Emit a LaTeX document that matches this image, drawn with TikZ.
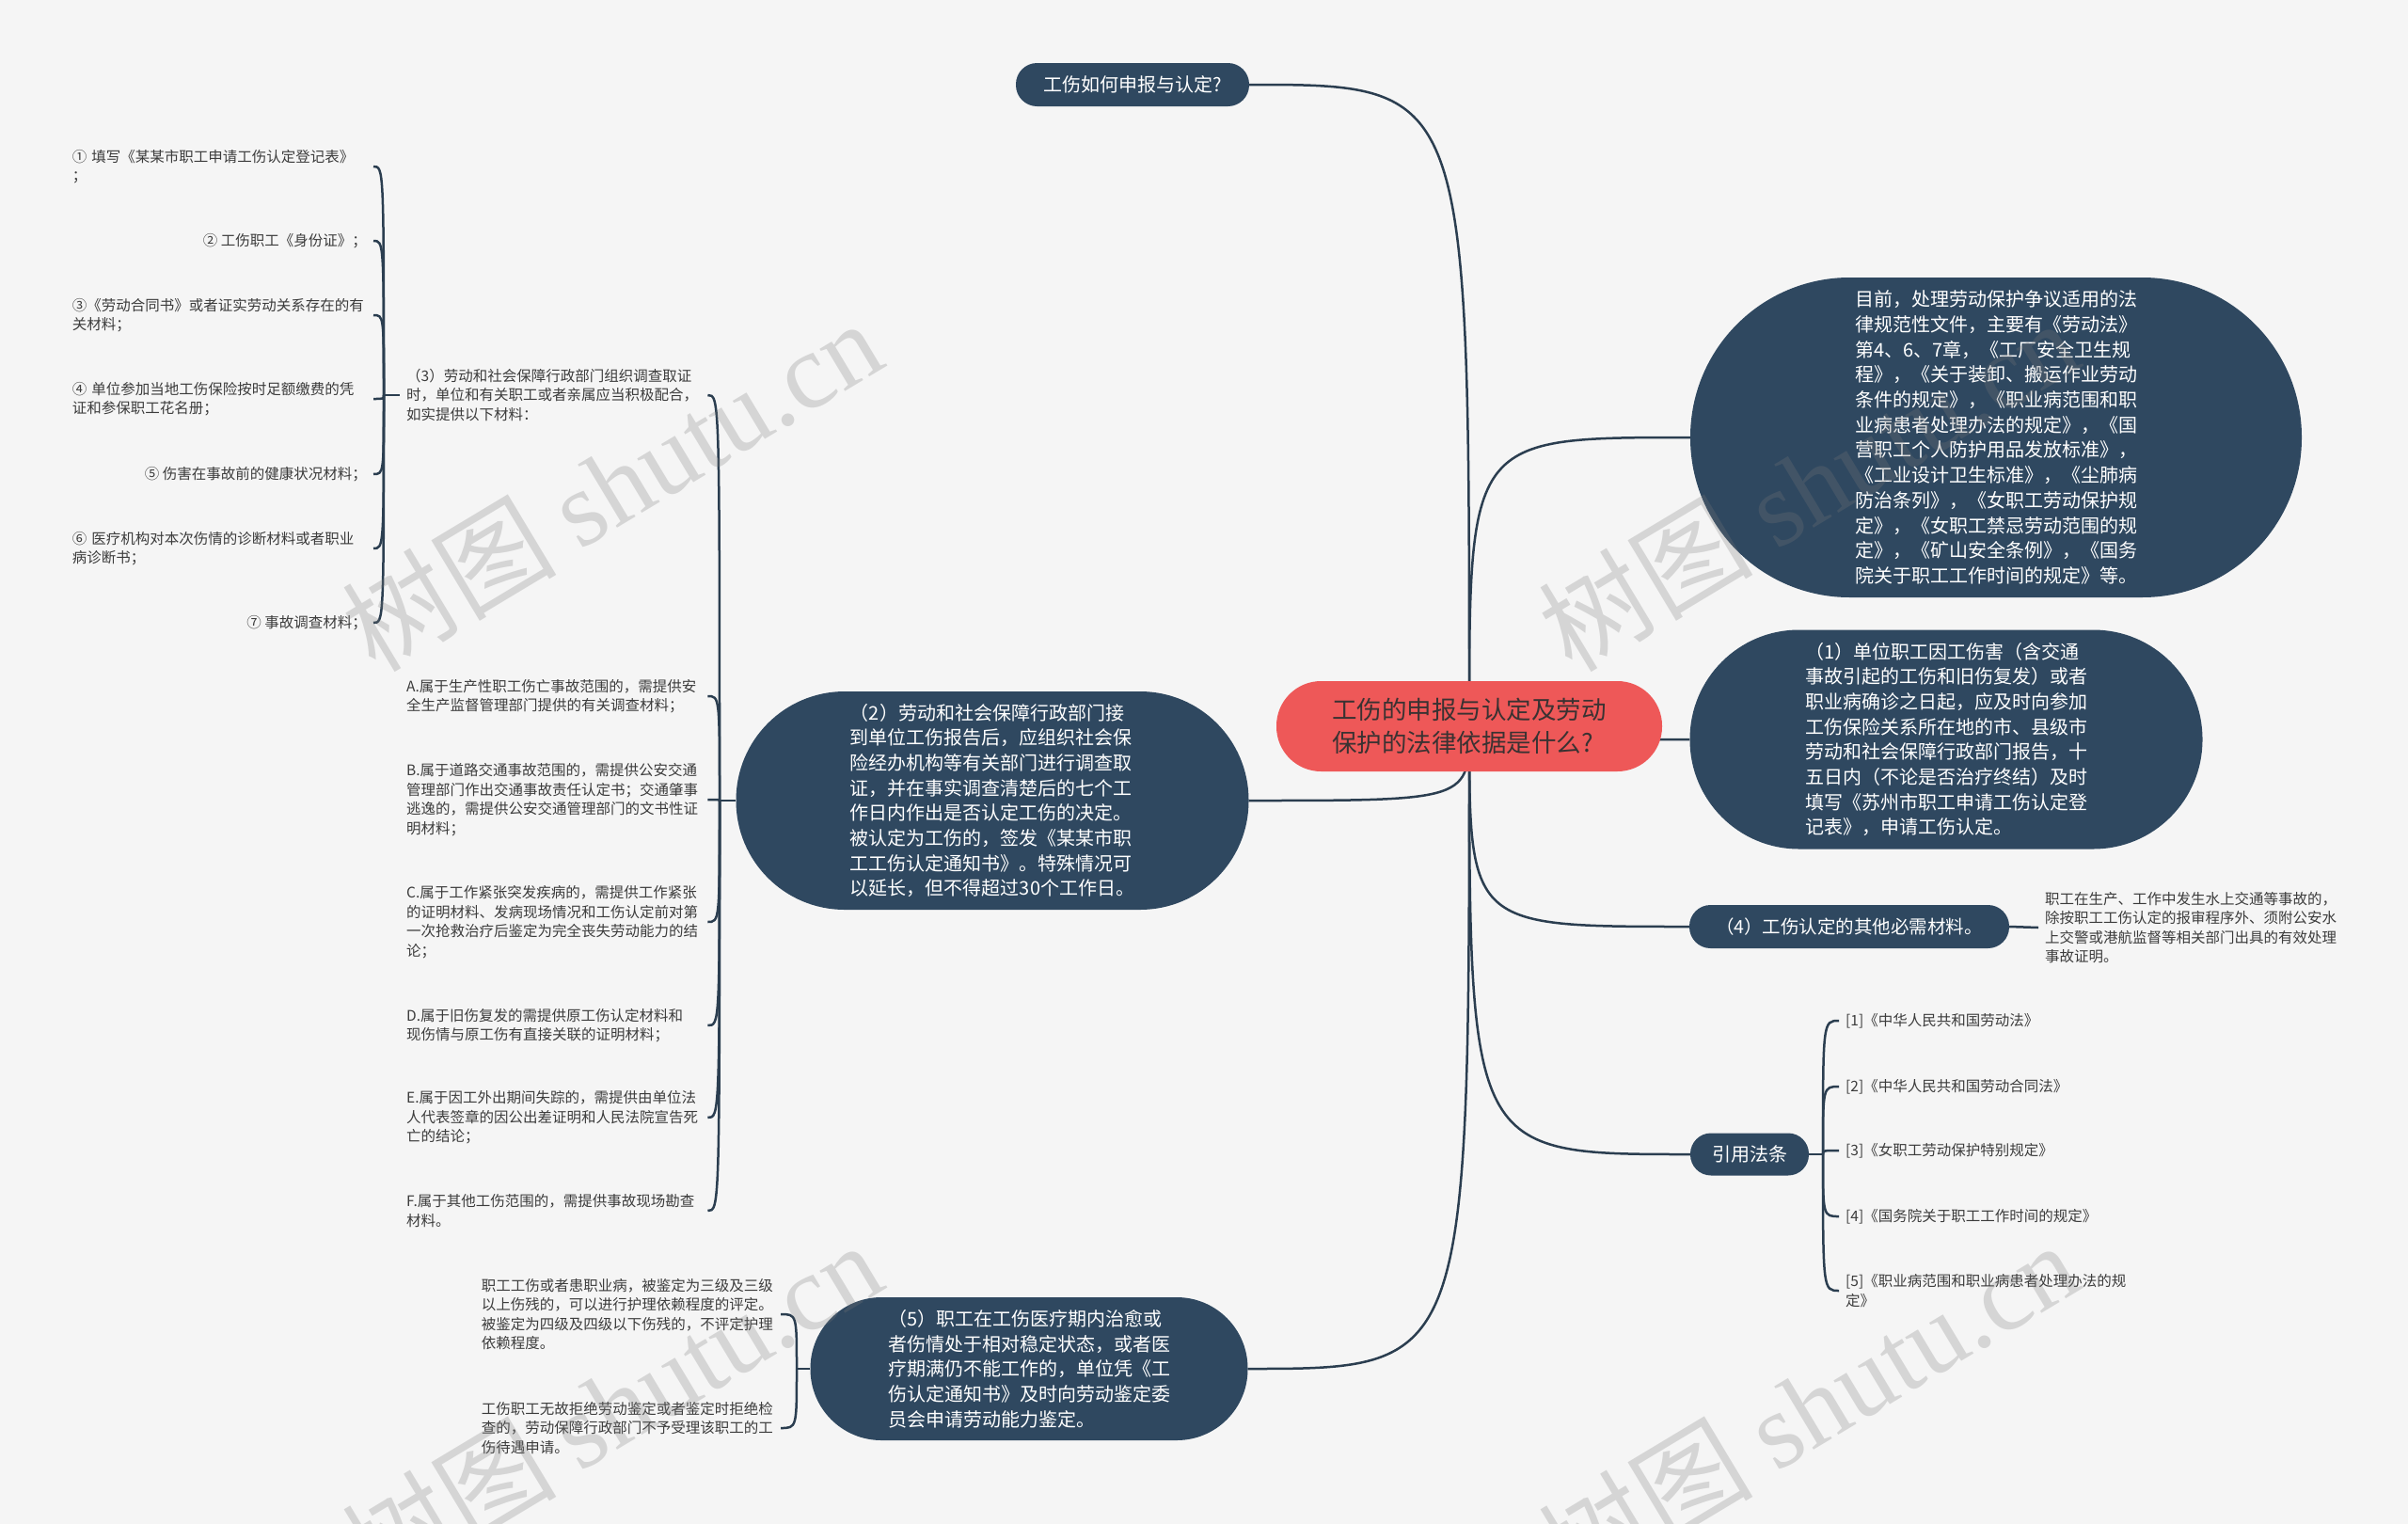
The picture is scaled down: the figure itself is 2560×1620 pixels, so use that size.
\documentclass[tikz,border=0pt]{standalone}
\usepackage{fontspec}
\setmainfont{Noto Sans CJK SC}
\newfontfamily\wmlatin{Liberation Serif}
\usetikzlibrary{calc}
\definecolor{bgc}{HTML}{F5F5F5}
\definecolor{nodec}{HTML}{2F4860}
\definecolor{edgec}{HTML}{2B3E50}
\definecolor{rootc}{HTML}{EE5858}
\definecolor{leafc}{HTML}{3C3C3C}
\definecolor{roott}{HTML}{3A3232}
\definecolor{wmc}{HTML}{7A7A7A}
\pgfdeclarelayer{bg}
\pgfdeclarelayer{fg}
\pgfsetlayers{bg,main,fg}
\begin{document}
\begin{tikzpicture}[x=1pt,y=-1pt,
  topic/.style={fill=nodec, text=white, inner sep=0pt, align=left, font=\fontsize{20}{26.7}\selectfont},
  pill/.style 2 args={minimum width=#1, minimum height=#2, rounded corners=#2/2-0.5pt},
  rootbox/.style={fill=rootc, text=roott, inner sep=0pt, align=left, font=\fontsize{26.5}{35}\selectfont},
  leaf/.style={text=leafc, inner xsep=7pt, inner ysep=0pt, align=left, font=\fontsize{15.5}{20.5}\selectfont},
  wide/.style={text width=313pt},
  edge/.style={draw=edgec, line width=2.5pt},
  wm/.style={rotate=31, text=wmc, text opacity=0.26, font=\fontsize{114}{114}\selectfont}
]
\useasboundingbox (0,0) rectangle (2560,1620);

% ---- central and main topics
\node[rootbox, pill={410pt}{96pt}] (root) at (1562,772) {工伤的申报与认定及劳动\\保护的法律依据是什么?};
\node[topic, pill={248pt}{46pt}] (q) at (1204,90) {工伤如何申报与认定?};
\node[topic, pill={650pt}{340pt}] (law) at (2122,465) {目前，处理劳动保护争议适用的法\\律规范性文件，主要有《劳动法》\\第4、6、7章，《工厂安全卫生规\\程》，《关于装卸、搬运作业劳动\\条件的规定》，《职业病范围和职\\业病患者处理办法的规定》，《国\\营职工个人防护用品发放标准》，\\《工业设计卫生标准》，《尘肺病\\防治条列》，《女职工劳动保护规\\定》，《女职工禁忌劳动范围的规\\定》，《矿山安全条例》，《国务\\院关于职工工作时间的规定》等。};
\node[topic, pill={545pt}{233pt}] (s1) at (2069,786) {（1）单位职工因工伤害（含交通\\事故引起的工伤和旧伤复发）或者\\职业病确诊之日起，应及时向参加\\工伤保险关系所在地的市、县级市\\劳动和社会保障行政部门报告，十\\五日内（不论是否治疗终结）及时\\填写《苏州市职工申请工伤认定登\\记表》，申请工伤认定。};
\node[topic, pill={340pt}{46pt}, font=\fontsize{19.5}{24}\selectfont] (s4) at (1966,985) {（4）工伤认定的其他必需材料。};
\node[topic, pill={126pt}{45pt}] (cite) at (1860,1227) {引用法条};
\node[topic, pill={545pt}{232pt}] (s2) at (1055,851) {（2）劳动和社会保障行政部门接\\到单位工伤报告后，应组织社会保\\险经办机构等有关部门进行调查取\\证，并在事实调查清楚后的七个工\\作日内作出是否认定工伤的决定。\\被认定为工伤的，签发《某某市职\\工工伤认定通知书》。特殊情况可\\以延长，但不得超过30个工作日。};
\node[topic, pill={465pt}{152pt}] (s5) at (1094,1455) {（5）职工在工伤医疗期内治愈或\\者伤情处于相对稳定状态，或者医\\疗期满仍不能工作的，单位凭《工\\伤认定通知书》及时向劳动鉴定委\\员会申请劳动能力鉴定。};

% ---- right leaves
\node[leaf, text width=311pt, anchor=west] (n4) at (2167,986) {职工在生产、工作中发生水上交通等事故的，\\除按职工工伤认定的报审程序外、须附公安水\\上交警或港航监督等相关部门出具的有效处理\\事故证明。};
\node[leaf, anchor=west] (c1) at (1955,1085) {[1]《中华人民共和国劳动法》};
\node[leaf, anchor=west] (c2) at (1955,1155) {[2]《中华人民共和国劳动合同法》};
\node[leaf, anchor=west] (c3) at (1955,1223) {[3]《女职工劳动保护特别规定》};
\node[leaf, anchor=west] (c4) at (1955,1293) {[4]《国务院关于职工工作时间的规定》};
\node[leaf, anchor=west] (c5) at (1955,1372) {[5]《职业病范围和职业病患者处理办法的规\\定》};

% ---- left leaves of (2)
\node[leaf, wide, anchor=west] (s3) at (425,420) {（3）劳动和社会保障行政部门组织调查取证\\时，单位和有关职工或者亲属应当积极配合，\\如实提供以下材料：};
\node[leaf, wide, anchor=west] (la) at (425,740) {A.属于生产性职工伤亡事故范围的，需提供安\\全生产监督管理部门提供的有关调查材料；};
\node[leaf, wide, anchor=west] (lb) at (425,850) {B.属于道路交通事故范围的，需提供公安交通\\管理部门作出交通事故责任认定书；交通肇事\\逃逸的，需提供公安交通管理部门的文书性证\\明材料；};
\node[leaf, wide, anchor=west] (lc) at (425,980) {C.属于工作紧张突发疾病的，需提供工作紧张\\的证明材料、发病现场情况和工伤认定前对第\\一次抢救治疗后鉴定为完全丧失劳动能力的结\\论；};
\node[leaf, wide, anchor=west] (ld) at (425,1090) {D.属于旧伤复发的需提供原工伤认定材料和\\现伤情与原工伤有直接关联的证明材料；};
\node[leaf, wide, anchor=west] (le) at (425,1188) {E.属于因工外出期间失踪的，需提供由单位法\\人代表签章的因公出差证明和人民法院宣告死\\亡的结论；};
\node[leaf, wide, anchor=west] (lf) at (425,1287) {F.属于其他工伤范围的，需提供事故现场勘查\\材料。};

% ---- leaves of (3)
\node[leaf, wide, anchor=east] (m1) at (397,177) {① 填写《某某市职工申请工伤认定登记表》\\；};
\node[leaf, anchor=east] (m2) at (397,256) {② 工伤职工《身份证》；};
\node[leaf, wide, anchor=east] (m3) at (397,335) {③《劳动合同书》或者证实劳动关系存在的有\\关材料；};
\node[leaf, wide, anchor=east] (m4) at (397,424) {④ 单位参加当地工伤保险按时足额缴费的凭\\证和参保职工花名册；};
\node[leaf, anchor=east] (m5) at (397,504) {⑤ 伤害在事故前的健康状况材料；};
\node[leaf, wide, anchor=east] (m6) at (397,583) {⑥ 医疗机构对本次伤情的诊断材料或者职业\\病诊断书；};
\node[leaf, anchor=east] (m7) at (397,662) {⑦ 事故调查材料；};

% ---- leaves of (5)
\node[leaf, text width=311pt, anchor=east] (p1) at (830,1397) {职工工伤或者患职业病，被鉴定为三级及三级\\以上伤残的，可以进行护理依赖程度的评定。\\被鉴定为四级及四级以下伤残的，不评定护理\\依赖程度。};
\node[leaf, text width=311pt, anchor=east] (p2) at (830,1518) {工伤职工无故拒绝劳动鉴定或者鉴定时拒绝检\\查的，劳动保障行政部门不予受理该职工的工\\伤待遇申请。};

% ---- bracket points
\coordinate (b2) at (765,851);
\coordinate (b3) at (408,420);
\coordinate (b5) at (847,1455);
\coordinate (bc) at (1938,1227);

\begin{pgfonlayer}{bg}
\fill[bgc] (0,0) rectangle (2560,1620);
\foreach \t/\a in {q/east, law/west, s1/west, s4/west, cite/west, s2/east, s5/east}
  \draw[edge] (root.center) .. controls (root.center |- \t.\a) .. (\t.\a);
\draw[edge] (s4.east) -- (n4.west);
\draw[edge] (cite.east) -- (bc);
\foreach \i in {c1,c2,c3,c4,c5}
  \draw[edge] (bc) .. controls (bc |- \i.west) and (bc |- \i.west) .. (\i.west);
\draw[edge] (s2.west) -- (b2);
\foreach \i in {s3,la,lb,lc,ld,le,lf}
  \draw[edge] (b2) .. controls (b2 |- \i.east) and (b2 |- \i.east) .. (\i.east);
\draw[edge] (s3.west) -- (b3);
\foreach \i in {m1,m2,m3,m4,m5,m6,m7}
  \draw[edge] (b3) .. controls (b3 |- \i.east) and (b3 |- \i.east) .. (\i.east);
\draw[edge] (s5.west) -- (b5);
\foreach \i in {p1,p2}
  \draw[edge] (b5) .. controls (b5 |- \i.east) and (b5 |- \i.east) .. (\i.east);
\end{pgfonlayer}

\begin{pgfonlayer}{fg}
\node[wm] (w1) at (650,515) {树图 {\wmlatin shutu.cn}};
\node[wm] (w2) at (1922,515) {树图 {\wmlatin shutu.cn}};
\node[wm] (w3) at (650,1495) {树图 {\wmlatin shutu.cn}};
\node[wm] (w4) at (1922,1495) {树图 {\wmlatin shutu.cn}};
\end{pgfonlayer}
\end{tikzpicture}
\end{document}
